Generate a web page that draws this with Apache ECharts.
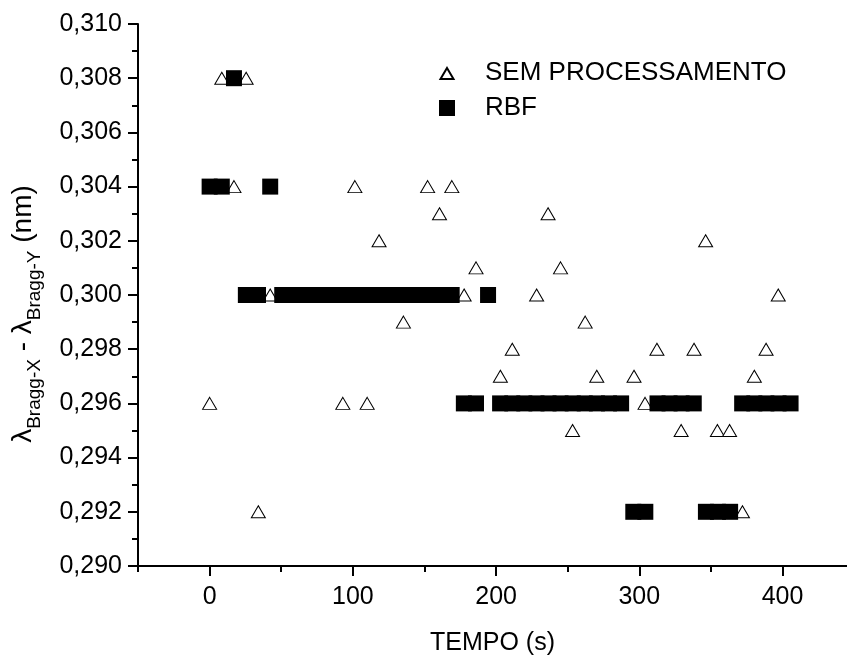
<!DOCTYPE html>
<html>
<head>
<meta charset="utf-8">
<script src="https://cdn.jsdelivr.net/npm/echarts@6/dist/echarts.min.js"></script>
<style>
html,body{margin:0;padding:0;background:#fff;}
#chart{width:847px;height:657px;}
</style>
</head>
<body>
<div id="chart"></div>
<script>
// SEM PROCESSAMENTO (raw) samples
const semX = [0, 8.5, 17, 25.5, 34, 42.3, 93, 101.4, 110, 118.3, 135.3, 152.2, 160.5, 169.1, 177.7, 186, 203, 211.3, 228.3, 236.3, 245, 253.4, 262.2, 270.3, 296.3, 304, 312.3, 329.2, 338.2, 346.3, 354.5, 363, 372, 380.3, 388.5, 397];
const semY = [0.296, 0.308, 0.304, 0.308, 0.292, 0.300, 0.296, 0.304, 0.296, 0.302, 0.299, 0.304, 0.303, 0.304, 0.300, 0.301, 0.297, 0.298, 0.300, 0.303, 0.301, 0.295, 0.299, 0.297, 0.297, 0.296, 0.298, 0.295, 0.298, 0.302, 0.295, 0.295, 0.292, 0.297, 0.298, 0.300];
// RBF samples
const rbfX = [0, 8.5, 17, 25.3, 33.8, 42.3, 50.7, 59.1, 67.6, 76, 84.5, 93, 101.4, 109.9, 118.3, 126.8, 135.2, 143.7, 152.1, 160.6, 169, 177.5, 186, 194.4, 202.8, 211.3, 219.7, 228.2, 236.6, 245, 253.5, 261.9, 270.4, 278.8, 287.3, 295.8, 304.2, 312.7, 321.1, 329.5, 338, 346.5, 354.9, 363.4, 371.8, 380.3, 388.7, 397.2, 405.6];
const rbfY = [0.304, 0.304, 0.308, 0.300, 0.300, 0.304, 0.300, 0.300, 0.300, 0.300, 0.300, 0.300, 0.300, 0.300, 0.300, 0.300, 0.300, 0.300, 0.300, 0.300, 0.300, 0.296, 0.296, 0.300, 0.296, 0.296, 0.296, 0.296, 0.296, 0.296, 0.296, 0.296, 0.296, 0.296, 0.296, 0.292, 0.292, 0.296, 0.296, 0.296, 0.296, 0.292, 0.292, 0.292, 0.296, 0.296, 0.296, 0.296, 0.296];
// axis ticks
const xMajorTicks = [0, 100, 200, 300, 400];
const xMinorTicks = [-50, 50, 150, 250, 350];
const seriesNames = ['SEM PROCESSAMENTO', 'RBF'];

const FONT = 'Liberation Sans, Arial, sans-serif';
const semData = semX.map((x, i) => [x, semY[i]]);
const rbfData = rbfX.map((x, i) => [x, rbfY[i]]);

const chart = echarts.init(document.getElementById('chart'), null, {renderer: 'canvas'});
chart.setOption({
  animation: false,
  backgroundColor: '#fff',
  grid: {left: 138, right: 0, top: 24, bottom: 91, containLabel: false, outerBoundsMode: 'none'},
  legend: {
    orient: 'vertical',
    left: 438,
    top: 60,
    padding: 0,
    itemWidth: 16,
    itemHeight: 16,
    itemGap: 9,
    data: [
      {name: seriesNames[0], icon: 'path://M0,0 M16,16 M8,3 L14.5,14 L1.5,14 Z'},
      {name: seriesNames[1], icon: 'rect'}
    ],
    textStyle: {fontFamily: FONT, fontSize: 26, color: '#000', lineHeight: 26, padding: [0, 0, 0, 25]}
  },
  xAxis: [{
    type: 'value',
    min: -50,
    max: 445,
    name: 'TEMPO (s)',
    nameLocation: 'middle',
    nameGap: 65,
    nameTextStyle: {fontFamily: FONT, fontSize: 25, color: '#000'},
    axisLine: {show: true, onZero: false, lineStyle: {color: '#000', width: 2}},
    axisTick: {show: true, inside: false, length: 10, customValues: xMajorTicks, lineStyle: {color: '#000', width: 2}},
    axisLabel: {show: true, customValues: xMajorTicks, margin: 19, fontFamily: FONT, fontSize: 25, color: '#000'},
    splitLine: {show: false}
  }, {
    type: 'value',
    position: 'bottom',
    min: -50,
    max: 445,
    axisLine: {show: false, onZero: false},
    axisTick: {show: true, inside: false, length: 6, customValues: xMinorTicks, lineStyle: {color: '#000', width: 2}},
    axisLabel: {show: false},
    splitLine: {show: false}
  }],
  yAxis: {
    type: 'value',
    min: 0.290,
    max: 0.310,
    interval: 0.002,
    name: '{l|λ}{s|Bragg-X}{n| - }{l|λ}{s|Bragg-Y}{n| (nm)}',
    nameLocation: 'middle',
    nameGap: 97,
    nameTextStyle: {
      fontFamily: FONT, fontSize: 28, color: '#000',
      padding: [0, 38, 0, 0],
      rich: {
        l: {fontFamily: FONT, fontSize: 28, lineHeight: 32, color: '#000', verticalAlign: 'top'},
        n: {fontFamily: FONT, fontSize: 28, lineHeight: 32, color: '#000', verticalAlign: 'top'},
        s: {fontFamily: FONT, fontSize: 19, lineHeight: 19, color: '#000', verticalAlign: 'top', padding: [16, 0, 0, 0]}
      }
    },
    axisLine: {show: true, onZero: false, lineStyle: {color: '#000', width: 2}},
    axisTick: {show: true, inside: false, length: 10, lineStyle: {color: '#000', width: 2}},
    minorTick: {show: true, splitNumber: 2, length: 6, lineStyle: {color: '#000', width: 2}},
    axisLabel: {
      margin: 16, fontFamily: FONT, fontSize: 25, color: '#000',
      formatter: v => v.toFixed(3).replace('.', ',')
    },
    splitLine: {show: false},
    minorSplitLine: {show: false}
  },
  series: [{
    name: seriesNames[0],
    type: 'scatter',
    symbol: 'triangle',
    symbolSize: [14, 12],
    itemStyle: {color: '#fff', borderColor: '#000', borderWidth: 1, opacity: 1},
    data: semData,
    z: 2
  }, {
    name: seriesNames[1],
    type: 'scatter',
    symbol: 'rect',
    symbolSize: 16,
    itemStyle: {color: '#000', borderColor: '#000', borderWidth: 0, opacity: 1},
    data: rbfData,
    z: 3
  }]
});
</script>
</body>
</html>
